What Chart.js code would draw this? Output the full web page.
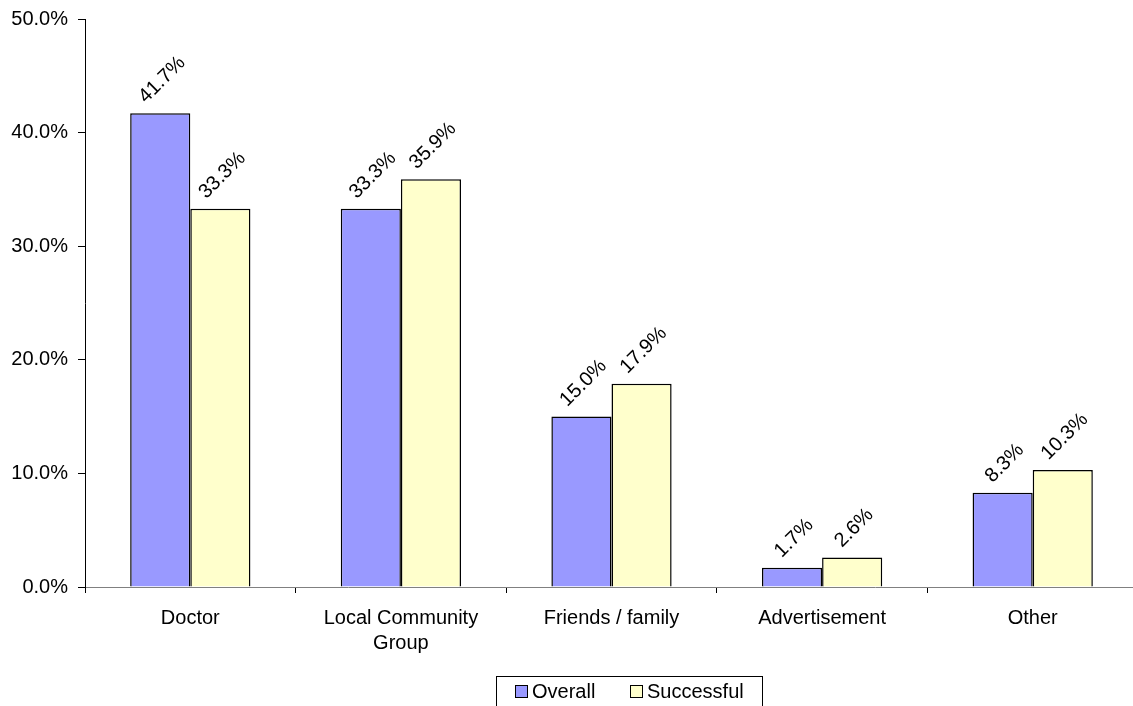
<!DOCTYPE html>
<html>
<head>
<meta charset="utf-8">
<script src="https://cdn.jsdelivr.net/npm/chart.js@4/dist/chart.umd.min.js"></script>
<style>
html,body{margin:0;padding:0;background:#fff;overflow:hidden;}
#wrap{width:1133px;height:706px;position:relative;overflow:hidden;}
</style>
</head>
<body>
<div id="wrap"><canvas id="c" width="1138" height="706"></canvas></div>
<script>
const categories = ['Doctor', ['Local Community', 'Group'], 'Friends / family', 'Advertisement', 'Other'];
const overallValues = [41.7, 33.3, 15.0, 1.7, 8.3];
const successfulValues = [33.3, 35.9, 17.9, 2.6, 10.3];
const yTicks = [0, 10, 20, 30, 40, 50];
const seriesNames = ['Overall', 'Successful'];

const FONT = '"Liberation Sans", Arial, sans-serif';
const FS = 20;

const labelPlugin = {
  id: 'rotLabels',
  afterDatasetsDraw(chart) {
    const ctx = chart.ctx;
    ctx.save();
    ctx.font = FS + 'px ' + FONT;
    ctx.fillStyle = '#000';
    ctx.textAlign = 'center';
    ctx.textBaseline = 'middle';
    chart.data.datasets.forEach((ds, di) => {
      const meta = chart.getDatasetMeta(di);
      meta.data.forEach((bar, i) => {
        const txt = ds.data[i].toFixed(1) + '%';
        const w = ctx.measureText(txt).width;
        const off = 7 + (w + 18) * 0.7071 / 2;
        ctx.save();
        ctx.translate(bar.x + 2, bar.y - off);
        ctx.rotate(-Math.PI / 4);
        ctx.fillText(txt, 0, 0);
        ctx.restore();
      });
    });
    ctx.restore();
  }
};

const legendPlugin = {
  id: 'boxLegend',
  afterDraw(chart) {
    const ctx = chart.ctx;
    ctx.save();
    ctx.strokeStyle = '#000';
    ctx.lineWidth = 1;
    ctx.strokeRect(496.5, 676.5, 266, 40);
    ctx.font = FS + 'px ' + FONT;
    ctx.textBaseline = 'middle';
    ctx.textAlign = 'left';
    const items = [{x: 515, i: 0}, {x: 630, i: 1}];
    items.forEach(it => {
      const ds = chart.data.datasets[it.i];
      ctx.fillStyle = ds.backgroundColor;
      ctx.fillRect(it.x + 0.5, 685.5, 12, 12);
      ctx.strokeStyle = '#000';
      ctx.strokeRect(it.x + 0.5, 685.5, 12, 12);
      ctx.fillStyle = '#000';
      ctx.fillText(ds.label, it.x + 17, 692);
    });
    ctx.restore();
  }
};

new Chart(document.getElementById('c'), {
  type: 'bar',
  data: {
    labels: categories,
    datasets: [
      {label: seriesNames[0], data: overallValues, backgroundColor: '#9999FF', borderColor: '#000', borderWidth: 1.5, borderSkipped: 'bottom', categoryPercentage: 0.571, barPercentage: 1},
      {label: seriesNames[1], data: successfulValues, backgroundColor: '#FFFFCC', borderColor: '#000', borderWidth: 1.5, borderSkipped: 'bottom', categoryPercentage: 0.571, barPercentage: 1}
    ]
  },
  options: {
    responsive: false,
    animation: false,
    devicePixelRatio: 1,
    layout: {autoPadding: false, padding: {left: 0, right: 0, top: 19, bottom: 0}},
    plugins: {legend: {display: false}, tooltip: {enabled: false}},
    scales: {
      x: {
        grid: {display: true, offset: true, drawOnChartArea: false, drawTicks: true, tickLength: 6, color: '#000'},
        border: {display: true, color: '#808080', width: 1},
        ticks: {color: '#000', font: {family: FONT, size: FS, lineHeight: 1.25}, padding: 13, maxRotation: 0, autoSkip: false},
        afterFit(s) { s.height = 119; }
      },
      y: {
        min: 0, max: 50,
        afterBuildTicks(s) { s.ticks = yTicks.map(v => ({value: v})); },
        grid: {display: true, drawOnChartArea: false, drawTicks: true, tickLength: 7, color: '#000'},
        border: {display: true, color: '#000', width: 1},
        ticks: {color: '#000', font: {family: FONT, size: FS, lineHeight: 0.8}, padding: 10, callback: v => v.toFixed(1) + '%'},
        afterFit(s) { s.width = 85; s.paddingTop = 0; s.paddingBottom = 0; }
      }
    }
  },
  plugins: [labelPlugin, legendPlugin]
});
</script>
</body>
</html>
